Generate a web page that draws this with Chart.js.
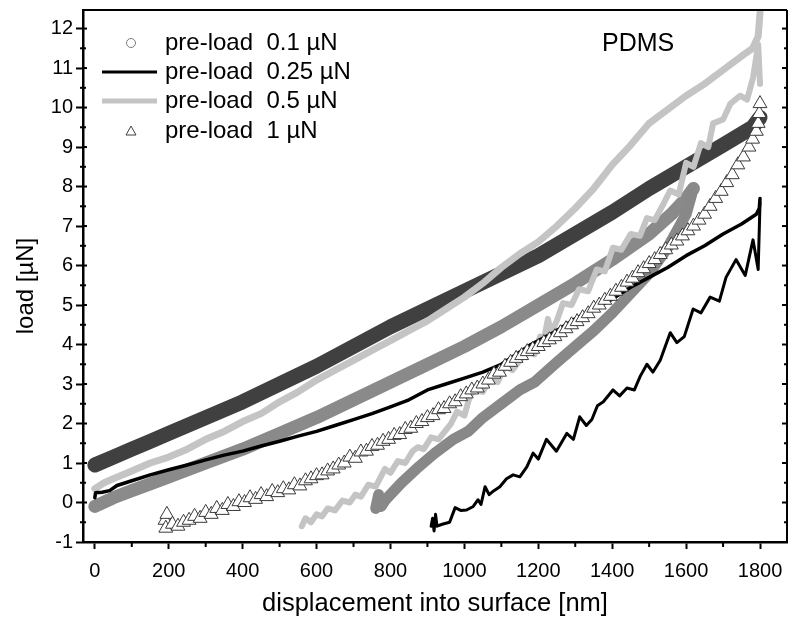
<!DOCTYPE html>
<html>
<head>
<meta charset="utf-8">
<title>PDMS load-displacement</title>
<script src="https://cdn.jsdelivr.net/npm/chart.js@4.4.1/dist/chart.umd.min.js"></script>
<style>
  html, body { margin: 0; padding: 0; background: #fff; }
  #plot { display: block; }
</style>
</head>
<body>
<canvas id="plot" width="788" height="623"></canvas>
<script>
// ---- data (displacement in nm, load in uN) ----
const legendLabels = ['pre-load  0.1 µN', 'pre-load  0.25 µN', 'pre-load  0.5 µN', 'pre-load  1 µN'];
const xTitle = 'displacement into surface [nm]';
const yTitle = 'load [µN]';
const sampleName = 'PDMS';

// pre-load 0.1 uN (gray circles)
const circlesUpperX = [0, 50, 100, 150, 200, 300, 400, 500, 600, 700, 800, 900, 1000, 1100, 1200, 1300, 1400, 1500, 1560, 1600, 1620];
const circlesUpperY = [-0.1, 0.12, 0.3, 0.47, 0.65, 1.0, 1.35, 1.75, 2.15, 2.6, 3.05, 3.5, 3.95, 4.45, 5.0, 5.55, 6.15, 6.8, 7.3, 7.7, 7.95];
const circlesLowerX = [760, 768, 775, 785, 800, 830, 870, 920, 970, 1010, 1050, 1100, 1150, 1190, 1250, 1300, 1350, 1400, 1450, 1500, 1550, 1600, 1615];
const circlesLowerY = [-0.15, 0.2, -0.1, 0.05, 0.2, 0.5, 0.85, 1.25, 1.6, 1.8, 2.15, 2.5, 2.85, 3.05, 3.55, 3.95, 4.35, 4.8, 5.3, 5.8, 6.45, 7.3, 7.8];

// pre-load 0.25 uN (black line)
const blackUpperX = [0, 2, 20, 40, 60, 100, 150, 200, 250, 300, 350, 400, 450, 500, 550, 600, 650, 700, 750, 800, 850, 900, 950, 1000, 1050, 1100, 1140, 1180, 1240, 1300, 1350, 1400, 1450, 1500, 1550, 1600, 1650, 1700, 1750, 1790, 1798, 1800];
const blackUpperY = [0.12, 0.25, 0.26, 0.3, 0.43, 0.55, 0.7, 0.83, 0.95, 1.08, 1.2, 1.3, 1.43, 1.55, 1.68, 1.8, 1.95, 2.1, 2.25, 2.42, 2.6, 2.85, 3.0, 3.15, 3.3, 3.5, 3.75, 4.0, 4.3, 4.65, 4.9, 5.15, 5.45, 5.7, 5.95, 6.25, 6.5, 6.8, 7.05, 7.3, 7.45, 7.7];
const blackLowerX = [910, 914, 918, 922, 926, 940, 960, 975, 990, 1006, 1024, 1037, 1045, 1056, 1067, 1080, 1096, 1114, 1132, 1150, 1169, 1186, 1200, 1222, 1249, 1277, 1295, 1312, 1330, 1345, 1360, 1376, 1402, 1420, 1440, 1460, 1476, 1494, 1510, 1530, 1557, 1575, 1595, 1619, 1640, 1665, 1690, 1708, 1735, 1760, 1781, 1795, 1800];
const blackLowerY = [-0.6, -0.4, -0.72, -0.3, -0.6, -0.55, -0.5, -0.13, -0.2, -0.19, -0.1, 0.07, -0.05, 0.4, 0.2, 0.3, 0.4, 0.6, 0.7, 0.65, 0.9, 1.25, 1.1, 1.6, 1.3, 1.75, 1.6, 2.17, 1.95, 2.1, 2.45, 2.55, 2.85, 2.7, 2.9, 2.85, 3.2, 3.5, 3.3, 3.6, 4.3, 4.05, 4.2, 4.9, 4.8, 5.2, 5.1, 5.7, 6.15, 5.75, 6.65, 5.9, 7.6];

// pre-load 0.5 uN (light gray line)
const grayUpperX = [0, 25, 50, 100, 150, 200, 250, 300, 350, 400, 450, 500, 550, 600, 650, 700, 750, 800, 850, 900, 950, 1000, 1050, 1100, 1150, 1200, 1250, 1300, 1350, 1400, 1450, 1500, 1550, 1600, 1650, 1700, 1750, 1780, 1795, 1800];
const grayUpperY = [0.35, 0.5, 0.6, 0.8, 1.0, 1.15, 1.35, 1.6, 1.8, 2.05, 2.25, 2.55, 2.8, 3.1, 3.35, 3.6, 3.85, 4.1, 4.35, 4.6, 4.9, 5.2, 5.55, 5.95, 6.3, 6.6, 7.0, 7.45, 7.95, 8.55, 9.05, 9.6, 9.95, 10.3, 10.6, 10.95, 11.3, 11.5, 11.8, 12.4];
const grayLowerX = [560, 570, 585, 600, 615, 630, 650, 670, 690, 705, 720, 740, 760, 785, 800, 820, 840, 860, 874, 890, 910, 930, 964, 980, 1000, 1015, 1029, 1050, 1070, 1090, 1110, 1130, 1150, 1170, 1190, 1205, 1215, 1226, 1235, 1250, 1267, 1290, 1310, 1335, 1358, 1380, 1402, 1425, 1450, 1475, 1494, 1515, 1538, 1557, 1580, 1600, 1620, 1640, 1660, 1673, 1700, 1720, 1746, 1765, 1781, 1795, 1800];
const grayLowerY = [-0.6, -0.4, -0.5, -0.3, -0.35, -0.15, -0.2, 0.05, 0.0, 0.2, 0.15, 0.45, 0.4, 0.85, 0.75, 1.05, 1.0, 1.3, 1.4, 1.35, 1.65, 1.6, 2.0, 2.3, 2.2, 2.7, 2.85, 2.8, 3.15, 3.05, 3.45, 3.35, 3.6, 3.85, 3.75, 4.2, 4.1, 4.65, 4.3, 4.6, 5.05, 5.0, 5.4, 5.35, 5.9, 5.85, 6.45, 6.4, 6.8, 6.75, 7.2, 7.15, 7.55, 7.9, 7.8, 8.6, 8.5, 9.1, 9.0, 9.6, 9.7, 10.1, 10.3, 10.2, 10.75, 11.6, 10.6];

// pre-load 1 uN (triangles)
const trianglesUpperX = [0, 50, 100, 150, 200, 300, 400, 500, 600, 700, 800, 900, 1000, 1100, 1200, 1300, 1400, 1500, 1600, 1700, 1780, 1800];
const trianglesUpperY = [0.95, 1.15, 1.35, 1.55, 1.75, 2.15, 2.55, 3.0, 3.45, 3.95, 4.45, 4.9, 5.35, 5.8, 6.25, 6.8, 7.35, 7.95, 8.5, 9.05, 9.5, 9.75];
const trianglesLowerX = [190, 192, 195, 210, 225, 240, 255, 270, 285, 300, 315, 330, 345, 360, 375, 390, 405, 420, 435, 450, 465, 480, 495, 510, 525, 540, 555, 570, 585, 600, 615, 630, 645, 660, 675, 690, 705, 720, 735, 750, 765, 780, 795, 810, 825, 840, 855, 870, 885, 900, 915, 930, 945, 960, 975, 990, 1005, 1020, 1035, 1050, 1065, 1080, 1095, 1110, 1125, 1140, 1155, 1170, 1185, 1200, 1215, 1230, 1245, 1260, 1275, 1290, 1305, 1320, 1335, 1350, 1365, 1380, 1395, 1410, 1425, 1440, 1455, 1470, 1485, 1500, 1515, 1530, 1545, 1560, 1575, 1590, 1605, 1620, 1635, 1650, 1665, 1680, 1695, 1710, 1725, 1740, 1755, 1770, 1780, 1790, 1795, 1798, 1800];
const trianglesLowerY = [-0.45, -0.65, -0.3, -0.55, -0.6, -0.5, -0.45, -0.35, -0.4, -0.25, -0.3, -0.15, -0.2, -0.05, -0.1, 0.02, 0.0, 0.12, 0.08, 0.2, 0.15, 0.28, 0.25, 0.35, 0.32, 0.45, 0.42, 0.55, 0.6, 0.68, 0.7, 0.8, 0.85, 0.95, 1.0, 1.15, 1.12, 1.28, 1.3, 1.42, 1.45, 1.55, 1.6, 1.7, 1.72, 1.85, 1.88, 2.0, 2.05, 2.15, 2.2, 2.35, 2.38, 2.5, 2.55, 2.68, 2.75, 2.85, 2.9, 3.0, 3.1, 3.25, 3.3, 3.45, 3.55, 3.65, 3.72, 3.82, 3.88, 3.95, 4.05, 4.12, 4.2, 4.3, 4.4, 4.5, 4.58, 4.68, 4.78, 4.92, 5.0, 5.12, 5.22, 5.35, 5.45, 5.58, 5.68, 5.82, 5.92, 6.05, 6.15, 6.28, 6.4, 6.52, 6.62, 6.75, 6.88, 7.0, 7.15, 7.3, 7.5, 7.7, 7.88, 8.1, 8.3, 8.55, 8.75, 9.0, 9.2, 9.4, 9.6, 9.85, 10.1];

// ---- helpers ----
function pairs(xs, ys) {
    return xs.map((x, i) => ({x: x, y: ys[i]}));
}

const fontFamily = '"Liberation Sans", Arial, Helvetica, sans-serif';

// frame, minor ticks, legend and sample label
const figureExtras = {
    id: 'figureExtras',
    afterDraw(chart) {
        const ctx = chart.ctx;
        const a = chart.chartArea;
        const xs = chart.scales.x;
        const ys = chart.scales.y;

        function seg(x1, y1, x2, y2) {
            ctx.beginPath();
            ctx.moveTo(x1, y1);
            ctx.lineTo(x2, y2);
            ctx.stroke();
        }

        ctx.save();
        ctx.strokeStyle = '#000';
        ctx.lineWidth = 2;
        seg(a.left, a.top, a.right, a.top);
        seg(a.right, a.top, a.right, a.bottom);

        // y ticks: inward part on left, inward on right, plus half-step minors
        ys.ticks.forEach(function (t) {
            const py = ys.getPixelForValue(t.value);
            seg(a.left, py, a.left + 4, py);
            seg(a.right - 5, py, a.right, py);
            const mv = t.value + 0.5;
            if (mv < ys.max) {
                const pm = ys.getPixelForValue(mv);
                seg(a.left - 3, pm, a.left + 3, pm);
                seg(a.right - 3, pm, a.right, pm);
            }
        });
        // x minor ticks
        xs.ticks.forEach(function (t) {
            const mv = t.value + 100;
            if (mv < xs.max) {
                const pm = xs.getPixelForValue(mv);
                seg(pm, a.bottom, pm, a.bottom + 5);
            }
        });

        // legend
        const rows = [43, 72, 101, 131];
        const symX = 131;
        ctx.font = '24px ' + fontFamily;
        ctx.fillStyle = '#000';
        ctx.textBaseline = 'middle';
        ctx.textAlign = 'left';
        legendLabels.forEach(function (lbl, i) {
            ctx.fillText(lbl, 165, rows[i]);
        });
        // circle
        ctx.lineWidth = 1;
        ctx.strokeStyle = '#7a7a7a';
        ctx.beginPath();
        ctx.arc(symX, rows[0], 4.5, 0, Math.PI * 2);
        ctx.stroke();
        // black line
        ctx.strokeStyle = '#000';
        ctx.lineWidth = 3;
        seg(102, rows[1], 157, rows[1]);
        // gray line
        ctx.strokeStyle = '#c4c4c4';
        ctx.lineWidth = 5;
        seg(102, rows[2], 157, rows[2]);
        // triangle
        ctx.strokeStyle = '#404040';
        ctx.lineWidth = 1;
        ctx.beginPath();
        ctx.moveTo(symX, rows[3] - 5);
        ctx.lineTo(symX + 5, rows[3] + 4);
        ctx.lineTo(symX - 5, rows[3] + 4);
        ctx.closePath();
        ctx.stroke();

        // sample name
        ctx.font = '25px ' + fontFamily;
        ctx.fillStyle = '#000';
        ctx.fillText(sampleName, 602, 44);
        ctx.restore();
    }
};

const lineDefaults = {
    showLine: true,
    fill: false,
    tension: 0,
    pointRadius: 0,
    borderCapStyle: 'round',
    borderJoinStyle: 'round'
};

const datasets = [
    {
        label: legendLabels[3] + ' b',
        data: pairs(trianglesLowerX, trianglesLowerY),
        showLine: false,
        pointStyle: 'triangle',
        pointRadius: 8,
        pointBackgroundColor: '#ffffff',
        pointBorderColor: '#3a3a3a',
        pointBorderWidth: 1
    },
    Object.assign({}, lineDefaults, {
        label: legendLabels[1] + ' b',
        data: pairs(blackLowerX, blackLowerY),
        borderColor: '#000000',
        borderWidth: 3
    }),
    Object.assign({}, lineDefaults, {
        label: legendLabels[1],
        data: pairs(blackUpperX, blackUpperY),
        borderColor: '#000000',
        borderWidth: 3.5
    }),
    Object.assign({}, lineDefaults, {
        label: legendLabels[2] + ' b',
        data: pairs(grayLowerX, grayLowerY),
        borderColor: '#c4c4c4',
        borderWidth: 6
    }),
    Object.assign({}, lineDefaults, {
        label: legendLabels[2],
        data: pairs(grayUpperX, grayUpperY),
        borderColor: '#c4c4c4',
        borderWidth: 7
    }),
    Object.assign({}, lineDefaults, {
        label: legendLabels[3],
        data: pairs(trianglesUpperX, trianglesUpperY),
        borderColor: '#404040',
        borderWidth: 15
    }),
    Object.assign({}, lineDefaults, {
        label: legendLabels[0] + ' b',
        data: pairs(circlesLowerX, circlesLowerY),
        borderColor: '#888888',
        borderWidth: 11
    }),
    Object.assign({}, lineDefaults, {
        label: legendLabels[0],
        data: pairs(circlesUpperX, circlesUpperY),
        borderColor: '#8a8a8a',
        borderWidth: 13
    })
];

function plainTick(value) {
    return String(value);
}

var ctx = document.getElementById('plot');
window.chart = new Chart(ctx, {
    type: 'scatter',
    data: {datasets: datasets},
    options: {
        responsive: false,
        animation: false,
        devicePixelRatio: 1,
        layout: {autoPadding: false, padding: {top: 10, right: 1, left: 0, bottom: 0}},
        plugins: {
            legend: {display: false},
            tooltip: {enabled: false}
        },
        scales: {
            x: {
                type: 'linear',
                position: 'bottom',
                min: -32,
                max: 1873,
                afterFit: function (scale) {
                    scale.height = 81;
                    scale.paddingLeft = 0;
                    scale.paddingRight = 0;
                },
                border: {display: true, color: '#000', width: 2.5},
                grid: {drawOnChartArea: false, drawTicks: true, tickLength: 7, tickWidth: 2, tickColor: '#000'},
                ticks: {
                    stepSize: 200,
                    includeBounds: false,
                    color: '#000',
                    padding: 10,
                    maxRotation: 0,
                    callback: plainTick,
                    font: {family: fontFamily, size: 20}
                },
                title: {
                    display: true,
                    text: xTitle,
                    color: '#000',
                    padding: {top: 0, bottom: 4},
                    font: {family: fontFamily, size: 25.5}
                }
            },
            y: {
                type: 'linear',
                position: 'left',
                min: -1,
                max: 12.47,
                afterFit: function (scale) {
                    scale.width = 83;
                    scale.paddingTop = 0;
                    scale.paddingBottom = 0;
                },
                border: {display: true, color: '#000', width: 2.5},
                grid: {drawOnChartArea: false, drawTicks: true, tickLength: 7, tickWidth: 2, tickColor: '#000'},
                ticks: {
                    stepSize: 1,
                    includeBounds: false,
                    color: '#000',
                    padding: 3,
                    callback: plainTick,
                    font: {family: fontFamily, size: 20}
                },
                title: {
                    display: true,
                    text: yTitle + '   ',
                    color: '#000',
                    padding: {top: 12, bottom: 0},
                    font: {family: fontFamily, size: 24}
                }
            }
        }
    },
    plugins: [figureExtras]
});
</script>
</body>
</html>
